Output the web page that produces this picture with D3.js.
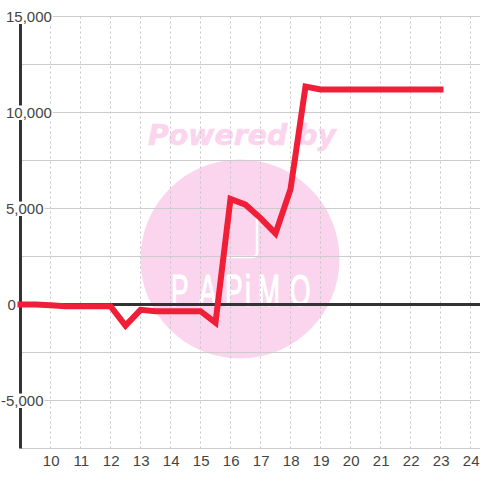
<!DOCTYPE html>
<html><head><meta charset="utf-8">
<script src="https://cdnjs.cloudflare.com/ajax/libs/d3/7.8.5/d3.min.js"></script>
<style>html,body{margin:0;padding:0;background:#fff}svg{display:block}</style>
</head><body><svg id="c" width="480" height="480"></svg>
<script>
const hours = [9,9.5,10,10.5,11,11.5,12,12.5,13,13.5,14,14.5,15,15.5,16,16.5,17,17.5,18,18.5,19,19.5,20,20.5,21,21.5,22,22.5,23];
const values = [0,0,-40,-90,-90,-90,-90,-1100,-280,-350,-350,-350,-350,-950,5500,5200,4500,3700,6000,11350,11200,11200,11200,11200,11200,11200,11200,11200,11200];
const yTicks = [15000,10000,5000,0,-5000];
const yMinor = [12500,7500,2500,-2500,-7500];
const xTicks = [10,11,12,13,14,15,16,17,18,19,20,21,22,23,24];
const logoText = 'PAPiMO';
const logoStart = [171,199,225,245,258,290];

const svg = d3.select('#c');
const x = d3.scaleLinear().domain([9,25]).range([20.5,500.5]);
const y = d3.scaleLinear().domain([15000,-7500]).range([16.5,448.5]);
const fmt = d => d3.format(',')(d).replace('\u2212','-');
const font = "'Liberation Sans',Arial,sans-serif";

// watermark
const wm = svg.append('g');
wm.append('circle').attr('cx',240).attr('cy',259).attr('r',99.5).attr('fill','#fbd5ee');
wm.append('text').attr('x',242).attr('y',145).attr('text-anchor','middle')
  .attr('font-family',"'DejaVu Sans'").attr('font-weight','bold').attr('font-style','italic')
  .attr('font-size',28.4).attr('fill','#fbd5ee').attr('stroke','#fbd5ee').attr('stroke-width',0.6).text('Powered by');
wm.append('path').attr('d','M257 214V252Q257 257 252 257H226').attr('fill','none').attr('stroke','#fff').attr('stroke-width',2.5);
const logoScale = 0.6;
wm.append('text').attr('transform',`scale(${logoScale},1)`)
  .attr('x',logoStart.map(v=>v/logoScale).join(' ')).attr('y',306)
  .attr('font-family',"'Liberation Sans'").attr('font-size',44)
  .attr('fill','#fff').attr('stroke','#fff').attr('stroke-width',1.2).text(logoText);

// grid
svg.append('g').selectAll('line').data(xTicks).join('line')
  .attr('x1',d=>x(d)).attr('x2',d=>x(d)).attr('y1',y(15000)).attr('y2',y(-7500))
  .attr('stroke','#c4c4c4').attr('stroke-width',1).attr('stroke-dasharray','2,3');
svg.append('g').selectAll('line').data(yTicks.concat(yMinor).filter(d=>d!==0)).join('line')
  .attr('x1',x(9)).attr('x2',480).attr('y1',d=>y(d)).attr('y2',d=>y(d))
  .attr('stroke','#ccc').attr('stroke-width',1);

// axes lines
svg.append('line').attr('x1',x(9)).attr('x2',x(9)).attr('y1',y(15000)).attr('y2',y(-7500)).attr('stroke','#333').attr('stroke-width',3);
svg.append('line').attr('x1',x(9)).attr('x2',480).attr('y1',y(0)).attr('y2',y(0)).attr('stroke','#333').attr('stroke-width',3);

// y labels with white plates
const yl = svg.append('g').selectAll('g').data(yTicks).join('g');
yl.append('text').attr('x',d=>d===0?7.5:(d<0?1:6)).attr('y',d=>y(d)+5.5).attr('text-anchor','start')
  .attr('font-family',font).attr('font-size',15).attr('fill','#444').text(d=>fmt(d));
yl.each(function(d){
  const g=d3.select(this), b=g.select('text').node().getBBox();
  g.insert('rect','text').attr('x',b.x-1).attr('y',y(d)-7).attr('width',b.width+2).attr('height',14.5).attr('fill','#fff');
});

// x labels
svg.append('g').selectAll('text').data(xTicks).join('text')
  .attr('x',d=>x(d)+0.7).attr('y',466).attr('text-anchor','middle')
  .attr('font-family',font).attr('font-size',15).attr('fill','#444').text(d=>d);

// series
const line = d3.line().x((d,i)=>x(hours[i])).y(d=>y(d));
svg.append('path').datum(values).attr('d',line).attr('fill','none')
  .attr('stroke','#f01f37').attr('stroke-width',6).attr('stroke-linecap','square').attr('stroke-linejoin','miter');
</script></body></html>
